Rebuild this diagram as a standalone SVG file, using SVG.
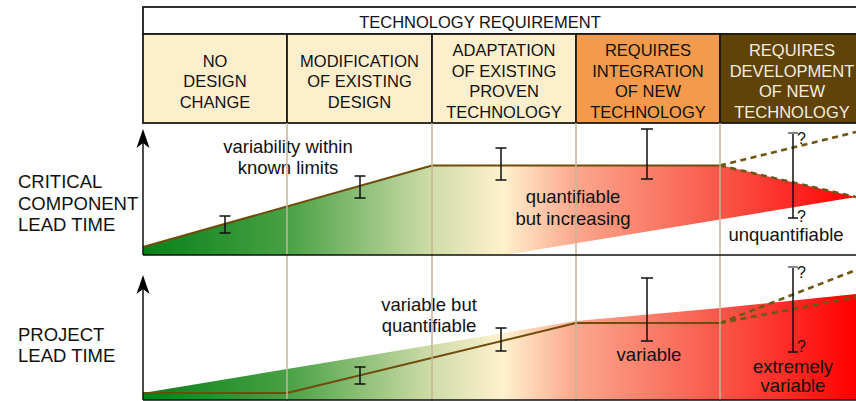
<svg xmlns="http://www.w3.org/2000/svg" width="856" height="401" viewBox="0 0 856 401">
<defs>
<linearGradient id="heat" gradientUnits="userSpaceOnUse" x1="143" y1="0" x2="856" y2="0">
<stop offset="0" stop-color="#07801A"/>
<stop offset="0.2" stop-color="#47A044"/>
<stop offset="0.405" stop-color="#CFDCA8"/>
<stop offset="0.505" stop-color="#FFF1CD"/>
<stop offset="0.607" stop-color="#FBA78D"/>
<stop offset="0.809" stop-color="#F9574A"/>
<stop offset="1" stop-color="#FF0000"/>
</linearGradient>
<path id="arrowhead" d="M0,0 L6.5,19 L0,14 L-6.5,19 Z" fill="#000"/>
</defs>
<style>
text{font-family:"Liberation Sans",Arial,Helvetica,sans-serif;fill:#111}
.h{font-size:16.5px;text-anchor:middle}
.hw{font-size:16.5px;text-anchor:middle;fill:#F4EEDD}
.a{font-size:18.5px;text-anchor:middle}
.s{font-size:18.5px}
.q{font-size:16px}
.cell{stroke:#1a1a1a;stroke-width:1.8}
.grid{stroke:#C4B596;stroke-width:1.5;fill:none}
.trend{stroke:#6F4C0C;stroke-width:2;fill:none}
.dash{stroke:#6E5614;stroke-width:2.6;fill:none;stroke-dasharray:6 4.5}
.eb{stroke:#111;stroke-width:1.5;fill:none}
.ebg{stroke:#888;stroke-width:2;fill:none}
.ax{stroke:#111;stroke-width:1.5;fill:none}
</style>

<g id="header">
<rect x="143" y="7" width="730" height="27" fill="#FFFFFF" class="cell"/>
<text class="h" x="480" y="28">TECHNOLOGY REQUIREMENT</text>
<g id="cell-no-design-change">
<rect x="143" y="34" width="144" height="89" fill="#FDEFCB" class="cell"/>
<text class="h" x="215" y="66.7">NO</text>
<text class="h" x="215" y="87.3">DESIGN</text>
<text class="h" x="215" y="108">CHANGE</text>
</g>
<g id="cell-modification">
<rect x="287" y="34" width="145" height="89" fill="#FDEFCB" class="cell"/>
<text class="h" x="359.5" y="66.7">MODIFICATION</text>
<text class="h" x="359.5" y="87.3">OF EXISTING</text>
<text class="h" x="359.5" y="108">DESIGN</text>
</g>
<g id="cell-adaptation">
<rect x="432" y="34" width="144" height="89" fill="#FDEFCB" class="cell"/>
<text class="h" x="504" y="56">ADAPTATION</text>
<text class="h" x="504" y="76.7">OF EXISTING</text>
<text class="h" x="504" y="97.3">PROVEN</text>
<text class="h" x="504" y="118">TECHNOLOGY</text>
</g>
<g id="cell-integration">
<rect x="576" y="34" width="144" height="89" fill="#F39A4C" class="cell"/>
<text class="h" x="648" y="56">REQUIRES</text>
<text class="h" x="648" y="76.7">INTEGRATION</text>
<text class="h" x="648" y="97.3">OF NEW</text>
<text class="h" x="648" y="118">TECHNOLOGY</text>
</g>
<g id="cell-development">
<rect x="720" y="34" width="153" height="89" fill="#5F4309" class="cell"/>
<text class="hw" x="792" y="56">REQUIRES</text>
<text class="hw" x="792" y="76.7">DEVELOPMENT</text>
<text class="hw" x="792" y="97.3">OF NEW</text>
<text class="hw" x="792" y="118">TECHNOLOGY</text>
</g>
</g>

<g id="panel-critical">
<polygon points="143,255 143,247 432,165 720,165 856,197 505,255" fill="url(#heat)"/>
<polyline class="trend" points="143,247 432,165.5 720,165.5"/>
<line class="dash" x1="720" y1="165.5" x2="856" y2="132"/>
<line class="dash" x1="720" y1="165.5" x2="856" y2="197"/>
<text class="s" x="18" y="188">CRITICAL</text>
<text class="s" x="18" y="209.5">COMPONENT</text>
<text class="s" x="18" y="231">LEAD TIME</text>
<text class="a" x="288" y="153">variability within</text>
<text class="a" x="288" y="174">known limits</text>
<text class="a" x="573" y="203">quantifiable</text>
<text class="a" x="573" y="225">but increasing</text>
<text class="a" x="786" y="241">unquantifiable</text>
</g>

<g id="panel-project">
<polygon points="143,400 143,393 576,321 720,308 856,294 856,400" fill="url(#heat)"/>
<polyline class="trend" points="143,393 287,393 576,323 720,323"/>
<line class="dash" x1="720" y1="323" x2="856" y2="270"/>
<line class="dash" x1="720" y1="323" x2="856" y2="297"/>
<text class="s" x="18" y="341">PROJECT</text>
<text class="s" x="18" y="362">LEAD TIME</text>
<text class="a" x="429" y="311">variable but</text>
<text class="a" x="429" y="332">quantifiable</text>
<text class="a" x="649" y="361">variable</text>
<text class="a" x="793" y="373">extremely</text>
<text class="a" x="793" y="392">variable</text>
</g>

<g id="grid">
<line class="grid" x1="287" y1="123" x2="287" y2="401"/>
<line class="grid" x1="432" y1="123" x2="432" y2="401"/>
<line class="grid" x1="576" y1="123" x2="576" y2="401"/>
<line class="grid" x1="720" y1="123" x2="720" y2="401"/>
</g>

<g id="axes">
<line class="ax" x1="143" y1="255" x2="856" y2="255"/>
<line class="ax" x1="143" y1="400" x2="856" y2="400"/>
<line class="ax" x1="143" y1="255" x2="143" y2="140"/>
<line class="ax" x1="143" y1="400" x2="143" y2="286"/>
<use href="#arrowhead" x="143" y="129"/>
<use href="#arrowhead" x="143" y="275"/>
</g>

<g id="error-bars">
<path class="eb" d="M225,216V233M219.5,216H230.5M219.5,233H230.5"/>
<path class="eb" d="M360,176V198M354.5,176H365.5M354.5,198H365.5"/>
<path class="eb" d="M501,148V180M495.5,148H506.5M495.5,180H506.5"/>
<path class="eb" d="M647,129V179M641,129H653M641,179H653"/>
<path class="eb" d="M793,133V218M788,218H798"/>
<path class="ebg" d="M788,133H798"/>
<text class="q" x="797" y="144">?</text>
<text class="q" x="797" y="222">?</text>
<path class="eb" d="M360,367V384M354.5,367H365.5M354.5,384H365.5"/>
<path class="eb" d="M501,328V351M495.5,328H506.5M495.5,351H506.5"/>
<path class="eb" d="M647,278V341M641,278H653M641,341H653"/>
<path class="eb" d="M793,267V352M788,352H798"/>
<path class="ebg" d="M788,267H798"/>
<text class="q" x="797" y="278">?</text>
<text class="q" font-size="15px" x="797" y="352">?</text>
</g>
</svg>
